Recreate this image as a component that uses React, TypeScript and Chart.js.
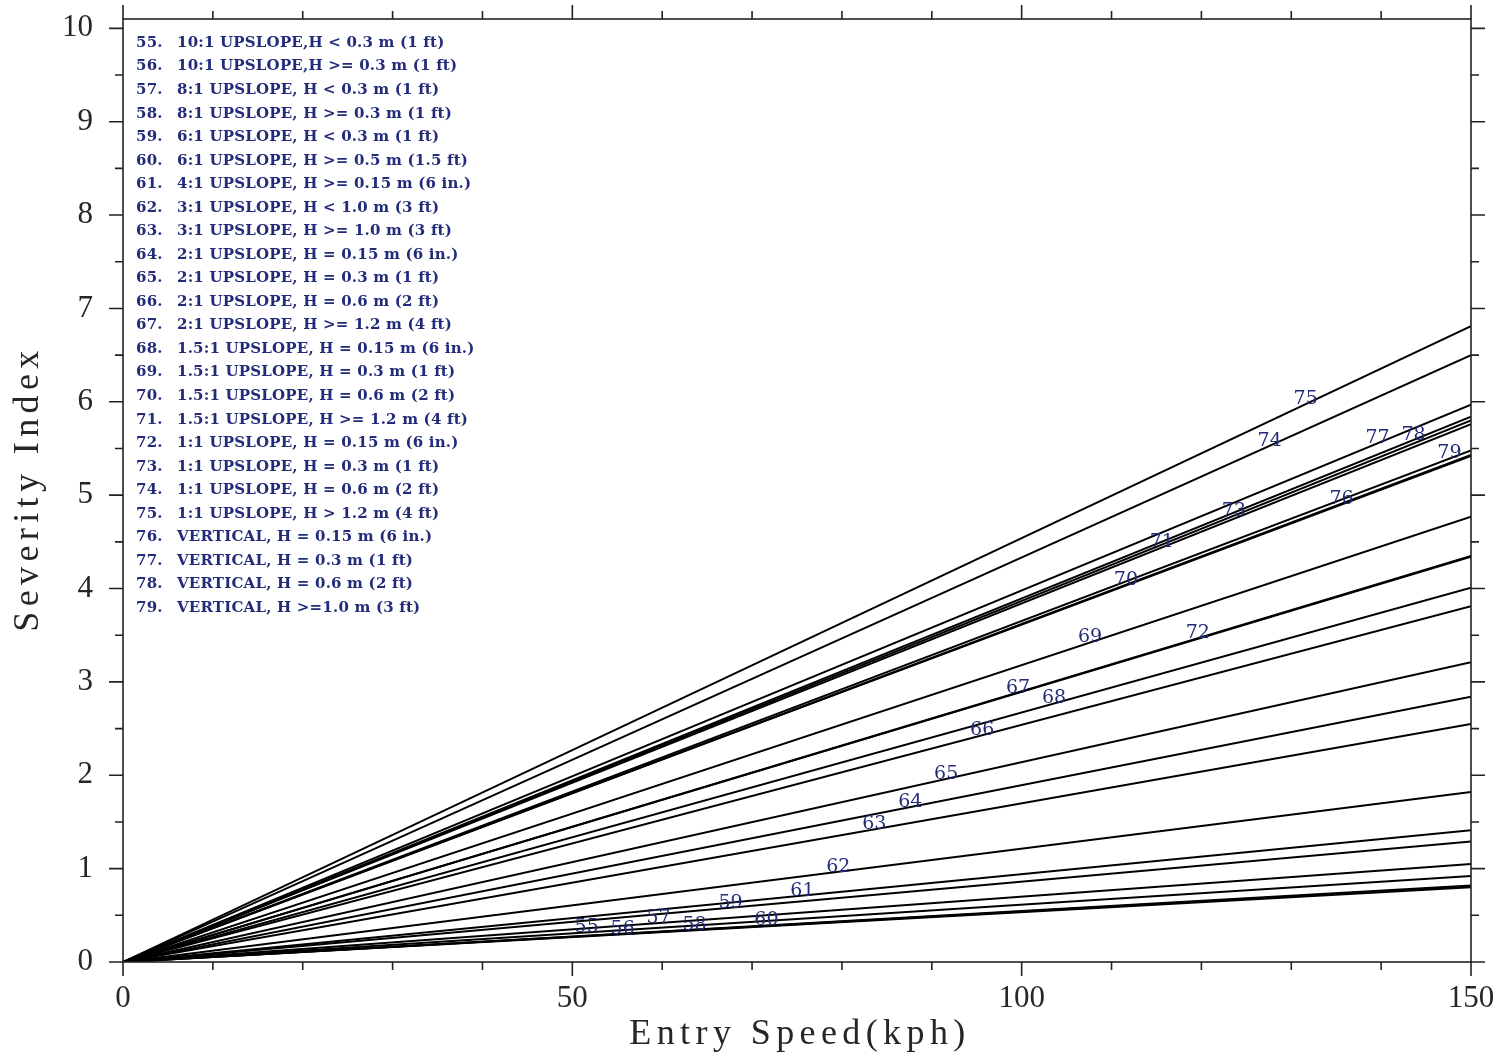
import { useEffect, useRef } from "react";
import { Chart, registerables } from "chart.js";

Chart.register(...registerables);

// ---------- data ----------
const seriesIds = [55, 56, 57, 58, 59, 60, 61, 62, 63, 64, 65, 66, 67, 68, 69, 70, 71, 72, 73, 74, 75, 76, 77, 78, 79];

const seriesNames = [
  "10:1 UPSLOPE,H < 0.3 m (1 ft)",
  "10:1 UPSLOPE,H >= 0.3 m (1 ft)",
  "8:1 UPSLOPE, H < 0.3 m (1 ft)",
  "8:1 UPSLOPE, H >= 0.3 m (1 ft)",
  "6:1 UPSLOPE, H < 0.3 m (1 ft)",
  "6:1 UPSLOPE, H >= 0.5 m (1.5 ft)",
  "4:1 UPSLOPE, H >= 0.15 m (6 in.)",
  "3:1 UPSLOPE, H < 1.0 m (3 ft)",
  "3:1 UPSLOPE, H >= 1.0 m (3 ft)",
  "2:1 UPSLOPE, H = 0.15 m (6 in.)",
  "2:1 UPSLOPE, H = 0.3 m (1 ft)",
  "2:1 UPSLOPE, H = 0.6 m (2 ft)",
  "2:1 UPSLOPE, H >= 1.2 m (4 ft)",
  "1.5:1 UPSLOPE, H = 0.15 m (6 in.)",
  "1.5:1 UPSLOPE, H = 0.3 m (1 ft)",
  "1.5:1 UPSLOPE, H = 0.6 m (2 ft)",
  "1.5:1 UPSLOPE, H >= 1.2 m (4 ft)",
  "1:1 UPSLOPE, H = 0.15 m (6 in.)",
  "1:1 UPSLOPE, H = 0.3 m (1 ft)",
  "1:1 UPSLOPE, H = 0.6 m (2 ft)",
  "1:1 UPSLOPE, H > 1.2 m (4 ft)",
  "VERTICAL, H = 0.15 m (6 in.)",
  "VERTICAL, H = 0.3 m (1 ft)",
  "VERTICAL, H = 0.6 m (2 ft)",
  "VERTICAL, H >=1.0 m (3 ft)",
];

// entry speeds (kph) at which each straight line is defined
const entrySpeeds = [0, 150];

// severity index at 0 kph and at 150 kph, per series
const severityAtStart = [0, 0, 0, 0, 0, 0, 0, 0, 0, 0, 0, 0, 0, 0, 0, 0, 0, 0, 0, 0, 0, 0, 0, 0, 0];
const severityAtEnd = [
  0.92, 0.8, 1.05, 0.81, 1.29, 0.82, 1.41, 1.82, 2.55, 2.84, 3.21, 3.81, 4.34,
  4.01, 4.77, 5.42, 5.76, 4.35, 5.8, 6.5, 6.81, 5.43, 5.97, 5.84, 5.48,
];

// entry speed at which each series number label sits
const labelSpeeds = [
  51.6, 55.6, 59.6, 63.6, 67.6, 71.6, 75.6, 79.6, 83.6, 87.6, 91.6, 95.6, 99.6,
  103.6, 107.6, 111.6, 115.6, 119.6, 123.6, 127.6, 131.6, 135.6, 139.6, 143.6, 147.6,
];

const xTickValues = [0, 50, 100, 150];
const xMinorTickValues = [10, 20, 30, 40, 60, 70, 80, 90, 110, 120, 130, 140];
const yTickValues = [0, 1, 2, 3, 4, 5, 6, 7, 8, 9, 10];
const yMinorTickValues = [0.5, 1.5, 2.5, 3.5, 4.5, 5.5, 6.5, 7.5, 8.5, 9.5];

const xTitle = "Entry Speed(kph)";
const yTitle = "Severity Index";

// ---------- styles ----------
const NAVY = "#222c7a";
const AXIS_TEXT = "#262626";

const decorPlugin = {
  id: "decor",
  afterDraw(chart: any) {
    const { ctx, chartArea: a, scales } = chart;
    const xs = scales.x;
    const ys = scales.y;
    ctx.save();

    // frame
    ctx.strokeStyle = "#222";
    ctx.lineWidth = 1.6;
    ctx.strokeRect(a.left, a.top, a.right - a.left, a.bottom - a.top);

    // ticks
    const major = 14;
    const minor = 8;
    ctx.beginPath();
    const xt = (v: number, len: number) => {
      const px = xs.getPixelForValue(v);
      ctx.moveTo(px, a.bottom);
      ctx.lineTo(px, a.bottom + len);
      ctx.moveTo(px, a.top);
      ctx.lineTo(px, a.top - len);
    };
    const yt = (v: number, len: number) => {
      const py = ys.getPixelForValue(v);
      ctx.moveTo(a.left, py);
      ctx.lineTo(a.left - len, py);
      ctx.moveTo(a.right, py);
      ctx.lineTo(a.right + len, py);
    };
    xTickValues.forEach((v) => xt(v, major));
    xMinorTickValues.forEach((v) => xt(v, minor));
    yTickValues.forEach((v) => yt(v, major));
    yMinorTickValues.forEach((v) => yt(v, minor));
    ctx.stroke();

    // legend list (top-left inside plot)
    ctx.fillStyle = NAVY;
    ctx.font = "bold 15px 'DejaVu Serif'";
    ctx.textBaseline = "middle";
    ctx.textAlign = "left";
    (ctx as any).letterSpacing = "0.2px";
    seriesIds.forEach((id, i) => {
      const y = a.top + 24 + i * 23.54;
      ctx.fillText(id + ".", a.left + 13, y);
      ctx.fillText(seriesNames[i], a.left + 54, y);
    });

    // line number labels
    (ctx as any).letterSpacing = "0px";
    ctx.font = "19px 'DejaVu Serif'";
    ctx.textAlign = "center";
    seriesIds.forEach((id, i) => {
      const sx = labelSpeeds[i];
      const v0 = severityAtStart[i];
      const v1 = severityAtEnd[i];
      const sv = v0 + ((v1 - v0) * (sx - entrySpeeds[0])) / (entrySpeeds[1] - entrySpeeds[0]);
      const px = xs.getPixelForValue(sx);
      const py = ys.getPixelForValue(sv) - 5;
      ctx.fillText(String(id), px, py);
    });

    // axis titles
    ctx.fillStyle = AXIS_TEXT;
    ctx.font = "36px 'Liberation Serif'";
    (ctx as any).letterSpacing = "5.4px";
    ctx.textAlign = "center";
    ctx.textBaseline = "middle";
    ctx.fillText(xTitle, (a.left + a.right) / 2 + 3, 1035);
    ctx.save();
    ctx.translate(29, (a.top + a.bottom) / 2);
    ctx.rotate(-Math.PI / 2);
    ctx.fillText(yTitle, 2, 0);
    ctx.restore();

    ctx.restore();
  },
};

const zeroPad = (s: any) => {
  s.paddingTop = 0;
  s.paddingBottom = 0;
  s.paddingLeft = 0;
  s.paddingRight = 0;
};

export default function App() {
  const ref = useRef<HTMLCanvasElement | null>(null);

  useEffect(() => {
    if (!ref.current) return;
    const datasets = seriesIds.map((id, i) => ({
      label: String(id),
      data: entrySpeeds.map((s, k) => ({ x: s, y: k === 0 ? severityAtStart[i] : severityAtEnd[i] })),
      borderColor: "#000",
      borderWidth: 2,
      pointRadius: 0,
      fill: false,
      tension: 0,
    }));

    const chart = new Chart(ref.current, {
      type: "line",
      data: { datasets },
      options: {
        animation: false,
        responsive: false,
        maintainAspectRatio: false,
        layout: { padding: { left: 0, right: 37, top: 19, bottom: 0 } },
        plugins: {
          legend: { display: false },
          tooltip: { enabled: false },
          title: { display: false },
        },
        scales: {
          x: {
            type: "linear",
            min: 0,
            max: 150,
            grid: { display: false, drawTicks: false },
            border: { display: false },
            ticks: {
              color: AXIS_TEXT,
              font: { family: "Liberation Serif", size: 31 },
              padding: 18,
              maxRotation: 0,
              autoSkip: false,
            },
            afterBuildTicks: (s: any) => {
              s.ticks = xTickValues.map((v) => ({ value: v }));
            },
            afterFit: (s: any) => {
              s.height = 95;
              zeroPad(s);
            },
          },
          y: {
            type: "linear",
            min: 0,
            max: 10.1,
            grid: { display: false, drawTicks: false },
            border: { display: false },
            ticks: {
              color: AXIS_TEXT,
              font: { family: "Liberation Serif", size: 31 },
              padding: 30,
              autoSkip: false,
            },
            afterBuildTicks: (s: any) => {
              s.ticks = yTickValues.map((v) => ({ value: v }));
            },
            afterFit: (s: any) => {
              s.width = 123;
              zeroPad(s);
            },
          },
        },
      },
      plugins: [decorPlugin],
    });
    return () => chart.destroy();
  }, []);

  return (
    <div style={{ position: "absolute", left: 0, top: 0, width: 1508, height: 1057, background: "#fff" }}>
      <canvas ref={ref} width={1508} height={1057} style={{ display: "block" }} />
    </div>
  );
}
